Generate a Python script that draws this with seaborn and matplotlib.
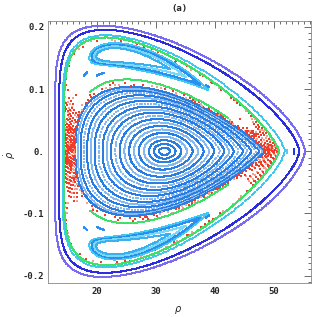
import numpy as np
import matplotlib
matplotlib.use('Agg')
import matplotlib.pyplot as plt
import seaborn as sns

# orbit family: lam runs from the centre (0) to the outer torus (1)
rho_centre = 31.35
family_lam = [0.0, 0.75, 0.9, 0.96, 1.0]
family_left = [31.35, 16.3, 14.4, 13.6, 12.9]
family_right = [31.35, 48.5, 50.8, 54.2, 55.2]
family_top = [0.0, 0.104, 0.183, 0.195, 0.202]
family_peak = [0.50, 0.29, 0.195, 0.19, 0.19]
family_tip = [0.5, 0.9, 0.75, 0.68, 0.65]

# nested tori round the elliptic point
central_lam = [0.042, 0.085, 0.128, 0.170, 0.212, 0.253, 0.294, 0.334, 0.373, 0.411,
               0.448, 0.484, 0.519, 0.553, 0.586, 0.618, 0.649, 0.679, 0.705, 0.728, 0.748]
central_colour = ['#2a7de1', '#2a7de1', '#2a7de1', '#86b8f2', '#2a7de1', '#86b8f2', '#2a7de1',
                  '#86b8f2', '#2a7de1', '#86b8f2', '#2a7de1', '#86b8f2', '#2a7de1', '#86b8f2',
                  '#2a7de1', '#86b8f2', '#2a7de1', '#86b8f2', '#2a7de1', '#86b8f2', '#2a7de1']
central_gap = [0.7, 0.7, 0.7, 0.9, 0.7, 1.4, 0.8, 1.8, 0.8, 2.4, 0.9,
               1.6, 1.0, 2.8, 1.0, 2.0, 1.1, 2.8, 1.2, 2.0, 0.8]

# outer tori and the outer separatrix
outer_lam = [0.9, 0.918, 0.962, 1.0]
outer_colour = ['#3fe06a', '#3cc8f0', '#2c2ce0', '#7a6cf0']
outer_gap = [0.8, 1.8, 0.7, 0.9]

# inner separatrix arcs (top and bottom)
arc_lam = 0.772
arc_phi = [35.0, 133.0]
arc_colour = '#3fe06a'

# period-2 island chain: nested rings (left / right reach in degrees, half width in lam)
island_phi = 112.0
island_lam = 0.846
ring_left = [9.0, 8.0, 7.0, 6.0]
ring_right = [50.0, 44.0, 34.0, 25.0]
ring_dlam = [0.040, 0.034, 0.028, 0.022]
ring_colour = ['#3ec8f2', '#2b8ef0', '#78d8f8', '#3ab0f0']

# small satellite islands
sat_rho = [18.0, 20.5, 36.5, 38.7, 53.4, 52.2]
sat_pdot = [0.124, 0.124, 0.110, 0.105, 0.0, 0.0]
sat_len = [2.5, 4.0, 4.0, 3.0, 3.0, 2.0]
sat_colour = ['#2b8ef0', '#2b8ef0', '#2b8ef0', '#2b8ef0', '#1a3ce8', '#5cc8f4']
sat_mirror = [True, True, True, True, False, False]

# chaotic layer: thick at the hyperbolic ends, thin along the islands
chaos_lam = [0.753, 0.897]
chaos_thin = [0.766, 0.888]
chaos_zone_phi = [180.0, 0.0]
chaos_zone_half = [42.0, 30.0]
chaos_n = 5000
chaos_colour = ['#f03c28', '#f8a090']

px_rho, px_pdot = 5.9, 620.0
ps = 0.007


def orbit(lam, n=3000):
    L = np.interp(lam, family_lam, family_left)
    R = np.interp(lam, family_lam, family_right)
    P = np.interp(lam, family_lam, family_top)
    s0 = np.interp(lam, family_lam, family_peak)
    b = np.interp(lam, family_lam, family_tip)
    a = b * s0 / (1 - s0)
    s = (1 - np.cos(np.linspace(0, np.pi, n))) / 2
    g = s ** a * (1 - s) ** b / (s0 ** a * (1 - s0) ** b)
    rho = L + s * (R - L)
    p = P * g
    return (np.concatenate([rho, rho[::-1][1:]]),
            np.concatenate([p, -p[::-1][1:]]))


phi_grid = np.linspace(-np.pi, np.pi, 1441)
lam_grid = np.linspace(0, 1, 201)
R_tab = np.zeros((len(lam_grid), len(phi_grid)))
for i, lam in enumerate(lam_grid[1:], start=1):
    rho, p = orbit(lam)
    u, w = rho - rho_centre, p / ps
    ph = np.arctan2(w, u)
    order = np.argsort(ph)
    R_tab[i] = np.interp(phi_grid, ph[order], np.hypot(u, w)[order], period=2 * np.pi)


def to_xy(lam, phi):
    lam = np.asarray(lam, float)
    phi = (np.asarray(phi, float) + np.pi) % (2 * np.pi) - np.pi
    fi = (phi + np.pi) / (2 * np.pi) * (len(phi_grid) - 1)
    li = lam * (len(lam_grid) - 1)
    i0 = np.clip(np.floor(li).astype(int), 0, len(lam_grid) - 2)
    j0 = np.clip(np.floor(fi).astype(int), 0, len(phi_grid) - 2)
    fl, ff = li - i0, fi - j0
    r = (R_tab[i0, j0] * (1 - fl) * (1 - ff) + R_tab[i0 + 1, j0] * fl * (1 - ff)
         + R_tab[i0, j0 + 1] * (1 - fl) * ff + R_tab[i0 + 1, j0 + 1] * fl * ff)
    return rho_centre + r * np.cos(phi), ps * r * np.sin(phi)


def to_lamphi(rho, pdot):
    u, w = rho - rho_centre, pdot / ps
    phi = np.arctan2(w, u)
    j = int(round((phi + np.pi) / (2 * np.pi) * (len(phi_grid) - 1)))
    return np.interp(np.hypot(u, w), R_tab[:, j], lam_grid), phi


def along(rho, p, gap):
    d = np.hypot(np.diff(rho) * px_rho, np.diff(p) * px_pdot)
    s = np.concatenate([[0], np.cumsum(d)])
    t = np.arange(0, s[-1], gap)
    return np.interp(t, s, rho), np.interp(t, s, p)


def dots(ax, x, y, colour, size=1.3):
    sns.scatterplot(x=x, y=y, color=colour, s=size, marker='s', linewidth=0,
                    ax=ax, legend=False, zorder=3)


sns.set_style('white')
fig = plt.figure(figsize=(3.32, 3.17), dpi=100)
ax = fig.add_axes([0.1455, 0.1082, 0.7905, 0.8265])

for lam, col, gap in zip(central_lam, central_colour, central_gap):
    dots(ax, *along(*orbit(lam), gap), col)

# chaotic layer, kept out of the islands
k = np.arange(1, chaos_n + 1)
c_phi = 2 * np.pi * ((k * 0.7548776662) % 1) - np.pi
c_lam = chaos_lam[0] + (chaos_lam[1] - chaos_lam[0]) * ((k * 0.5698402910) % 1)
c_keep = (k * 0.6180339887) % 1
ph_deg = np.degrees(np.abs(c_phi))
weight = np.zeros_like(ph_deg)
for zc, zh in zip(chaos_zone_phi, chaos_zone_half):
    weight = np.maximum(weight, np.clip(1 - np.abs(ph_deg - zc) / zh, 0, 1))
thin = (c_lam < chaos_thin[0]) | (c_lam > chaos_thin[1])
keep = (thin & (c_keep < 0.35)) | (c_keep < 0.42 * weight ** 0.7)
cx, cy = to_xy(c_lam[keep], c_phi[keep])
dots(ax, cx[::3], cy[::3], chaos_colour[1], 1.5)
dots(ax, np.delete(cx, np.s_[::3]), np.delete(cy, np.s_[::3]), chaos_colour[0], 1.4)

for sign in (1, -1):
    phi = np.radians(np.linspace(arc_phi[0], arc_phi[1], 2000)) * sign
    dots(ax, *along(*to_xy(np.full_like(phi, arc_lam), phi), 1.2), arc_colour)

for lam, col, gap in zip(outer_lam, outer_colour, outer_gap):
    dots(ax, *along(*orbit(lam), gap), col)

tau = np.linspace(0, 2 * np.pi, 3000)
for rl, rr, dl, col in zip(ring_left, ring_right, ring_dlam, ring_colour):
    phi = island_phi + (rl - rr) / 2 - (rl + rr) / 2 * np.cos(tau)
    lam = island_lam + dl * np.sin(tau) * np.sin(tau / 2) / 0.77
    for sign in (1, -1):
        dots(ax, *along(*to_xy(lam, np.radians(phi) * sign), 0.8), col)

for r0, p0, ln, col, mir in zip(sat_rho, sat_pdot, sat_len, sat_colour, sat_mirror):
    lam0, phi0 = to_lamphi(r0, p0)
    phi = phi0 + np.radians(np.linspace(-ln / 2, ln / 2, 200))
    x, y = along(*to_xy(np.full_like(phi, lam0), phi), 0.6)
    dots(ax, x, y, col)
    if mir:
        dots(ax, x, -y, col)

ax.set_xlim(11.75, 56.2)
ax.set_ylim(-0.2113, 0.2097)
ax.set_xticks([20, 30, 40, 50])
ax.set_xticks(np.arange(12, 57, 1), minor=True)
ax.set_yticks([-0.2, -0.1, 0, 0.1, 0.2])
ax.set_yticklabels(['-0.2', '-0.1', '0.', '0.1', '0.2'])
ax.set_yticks(np.arange(-0.21, 0.2101, 0.01), minor=True)
ax.tick_params(which='both', direction='in', top=True, right=True, color='#555555', width=0.6)
ax.tick_params(which='major', length=5, pad=3)
ax.tick_params(which='minor', length=2.5)
for lab in ax.get_xticklabels() + ax.get_yticklabels():
    lab.set_family('DejaVu Sans Mono')
    lab.set_weight('bold')
    lab.set_fontsize(6.5)
for sp in ax.spines.values():
    sp.set_color('#888888')
    sp.set_linewidth(0.6)
ax.set_xlabel('')
ax.set_ylabel('')

fig.text(179.5 / 332, 1 - 8 / 317, '(a)', ha='center', va='center',
         family='DejaVu Sans Mono', weight='bold', fontsize=6.5)
fig.text(178 / 332, 1 - 310 / 317, r'$\rho$', ha='center', va='center', fontsize=7)
fig.text(10 / 332, 1 - 155 / 317, r'$\dot{\rho}$', ha='center', va='center',
         fontsize=7, rotation=90)

fig.savefig('out.png', dpi=100)
